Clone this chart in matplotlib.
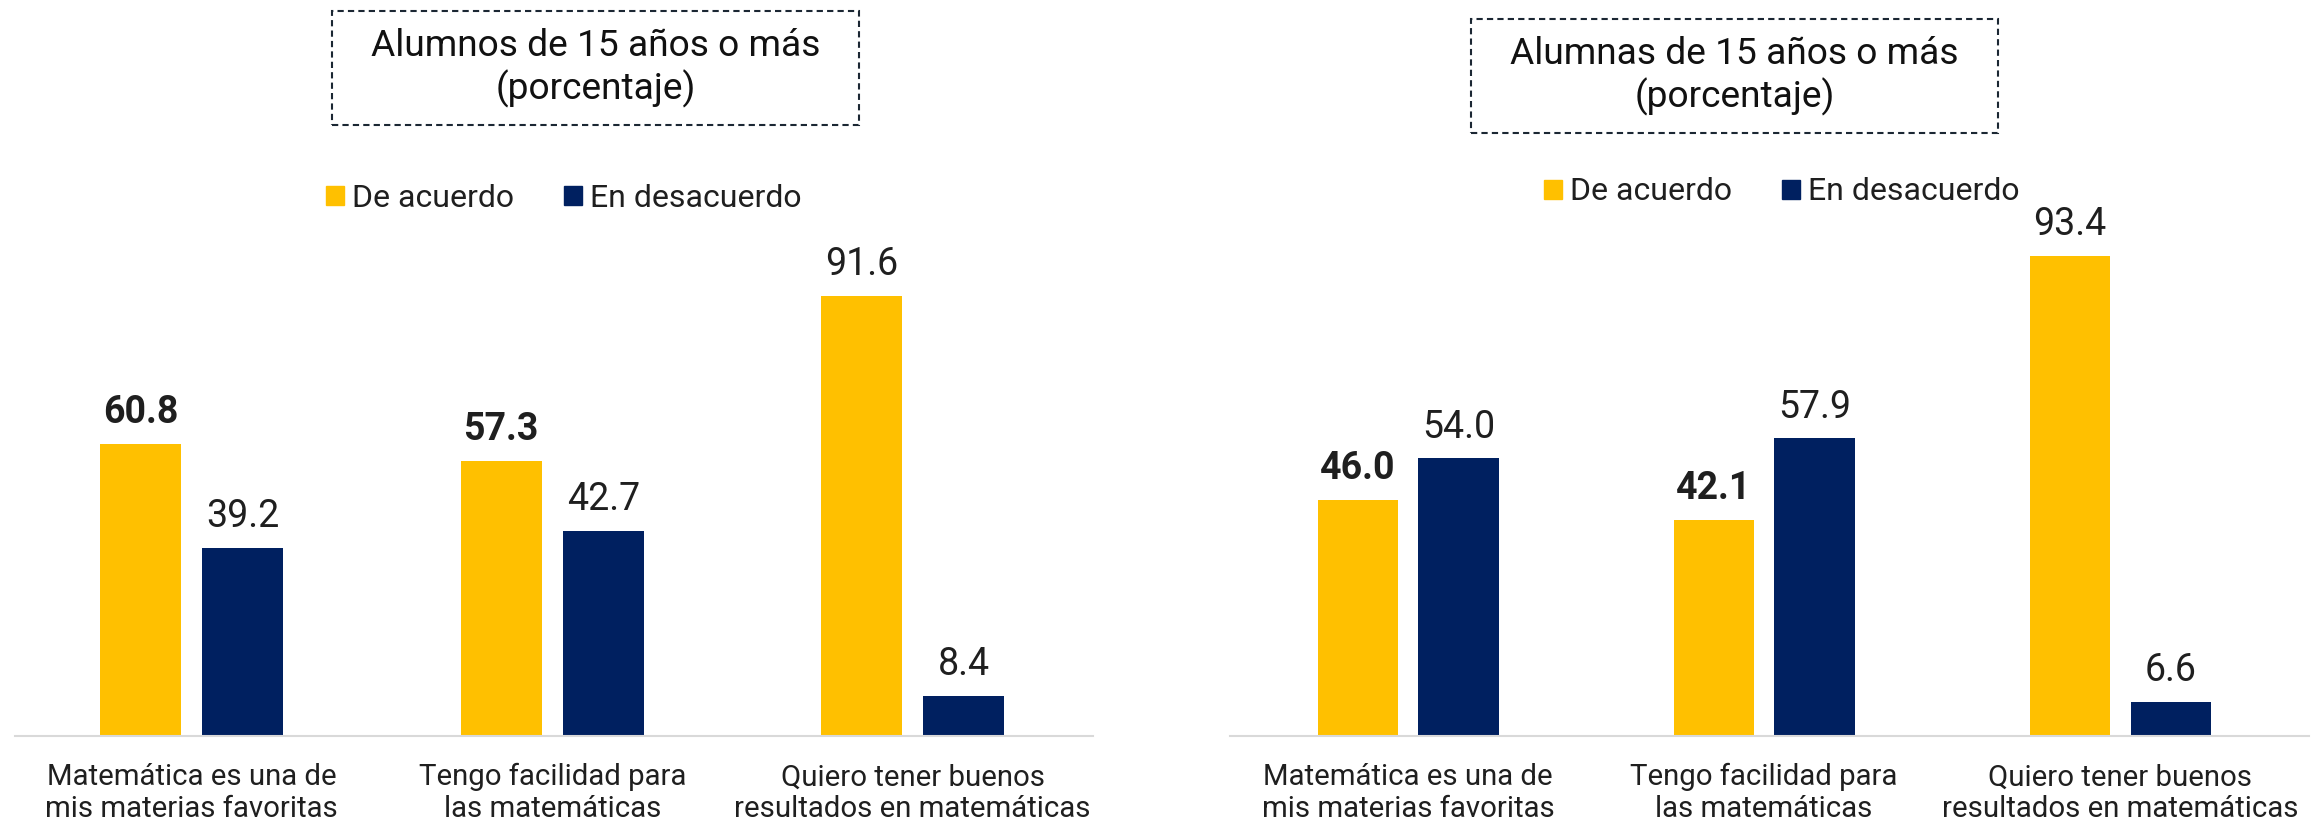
import matplotlib
matplotlib.use("Agg")
import matplotlib.pyplot as plt
from matplotlib.patches import Patch, Rectangle

plt.rcParams['font.family'] = ['Roboto', 'DejaVu Sans']

# Datos
categorias = ["Matemática es una de\nmis materias favoritas",
              "Tengo facilidad para\nlas matemáticas",
              "Quiero tener buenos\nresultados en matemáticas"]
series = ["De acuerdo", "En desacuerdo"]
alumnos_acuerdo = [60.8, 57.3, 91.6]
alumnos_desacuerdo = [39.2, 42.7, 8.4]
alumnas_acuerdo = [46.0, 42.1, 93.4]
alumnas_desacuerdo = [54.0, 57.9, 6.6]
titulos = ["Alumnos de 15 años o más\n(porcentaje)",
           "Alumnas de 15 años o más\n(porcentaje)"]
negrita = [True, True, False]   # etiquetas en negrita (serie "De acuerdo")

AMARILLO = '#FFC000'
AZUL = '#002060'
TEXTO = '#1f1f1f'

W, H = 2323, 822
fig = plt.figure(figsize=(W / 100, H / 100), dpi=100)


def px(x0, y0, x1, y1):
    # caja en pixeles (origen arriba-izquierda) -> fracciones de figura
    return [x0 / W, 1 - y1 / H, (x1 - x0) / W, (y1 - y0) / H]


def panel(rect, acuerdo, desacuerdo, xlim, ymax, titulo, caja, leg_xy):
    ax = fig.add_axes(rect)
    xs = range(len(categorias))
    off, ancho = 0.1415, 0.225
    ax.bar([x - off for x in xs], acuerdo, ancho, color=AMARILLO)
    ax.bar([x + off for x in xs], desacuerdo, ancho, color=AZUL)

    # etiquetas de valores
    for i, v in enumerate(acuerdo):
        ax.annotate(f"{v:.1f}", (i - off, v), xytext=(0, 15), textcoords='offset points',
                    ha='center', va='baseline', fontsize=27, color=TEXTO,
                    fontweight='bold' if negrita[i] else 'normal')
    for i, v in enumerate(desacuerdo):
        ax.annotate(f"{v:.1f}", (i + off, v), xytext=(0, 15), textcoords='offset points',
                    ha='center', va='baseline', fontsize=27, color=TEXTO)

    # categorias bajo el eje (baseline = ultima linea)
    for i, c in enumerate(categorias):
        ax.annotate(c, (i, 0), xycoords=('data', 'axes fraction'), xytext=(0, -58),
                    textcoords='offset points', ha='center', va='baseline',
                    fontsize=21.2, color=TEXTO, linespacing=1.15)

    ax.set_xlim(*xlim)
    ax.set_ylim(0, ymax)
    ax.set_xticks([])
    ax.set_yticks([])
    for s in ['top', 'left', 'right']:
        ax.spines[s].set_visible(False)
    ax.spines['bottom'].set_color('#D9D9D9')
    ax.spines['bottom'].set_linewidth(1.5)

    # recuadro punteado del titulo
    r = Rectangle((caja[0] / W, 1 - caja[3] / H), (caja[2] - caja[0]) / W,
                  (caja[3] - caja[1]) / H, transform=fig.transFigure, fill=False,
                  edgecolor='#1b2733', linestyle=(0, (3, 2)), linewidth=1.5)
    fig.add_artist(r)
    fig.text((caja[0] + caja[2]) / 2 / W, 1 - (caja[1] + caja[3]) / 2 / H, titulo,
             ha='center', va='center', fontsize=26.7, color='#111111',
             linespacing=1.2, multialignment='center')

    handles = [Patch(color=AMARILLO), Patch(color=AZUL)]
    fig.legend(handles, series, loc='center', bbox_to_anchor=(leg_xy[0] / W, 1 - leg_xy[1] / H),
               ncol=2, frameon=False, fontsize=23, handlelength=0.55, handleheight=0.55,
               handletextpad=0.26, columnspacing=1.58, labelcolor=TEXTO)
    return ax


panel(px(15, 170, 1093, 736), alumnos_acuerdo, alumnos_desacuerdo, (-0.49, 2.5), 117.9,
      titulos[0], (332, 11, 859, 125), (564, 198))
panel(px(1230, 170, 2309, 736), alumnas_acuerdo, alumnas_desacuerdo, (-0.5, 2.53), 110.1,
      titulos[1], (1471, 19, 1998, 133), (1782, 192))

fig.savefig('out.png', dpi=100)
